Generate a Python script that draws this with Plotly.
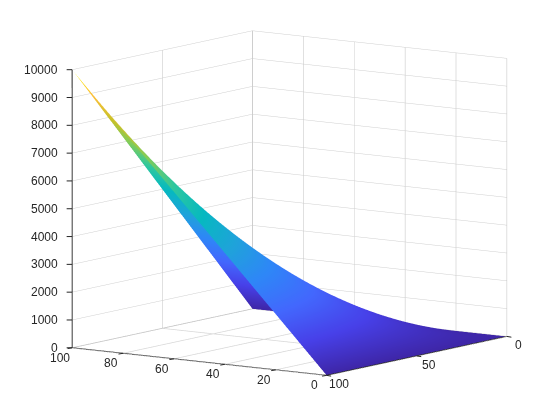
import plotly.graph_objects as go

x_values = [0, 10, 20, 30, 40, 50, 60, 70, 80, 90, 100]
y_values = [0, 10, 20, 30, 40, 50, 60, 70, 80, 90, 100]
# rows follow y_values, columns follow x_values
z_values = [
    [0, 0, 0, 0, 0, 0, 0, 0, 0, 0, 0],
    [0, 100, 200, 300, 400, 500, 600, 700, 800, 900, 1000],
    [0, 200, 400, 600, 800, 1000, 1200, 1400, 1600, 1800, 2000],
    [0, 300, 600, 900, 1200, 1500, 1800, 2100, 2400, 2700, 3000],
    [0, 400, 800, 1200, 1600, 2000, 2400, 2800, 3200, 3600, 4000],
    [0, 500, 1000, 1500, 2000, 2500, 3000, 3500, 4000, 4500, 5000],
    [0, 600, 1200, 1800, 2400, 3000, 3600, 4200, 4800, 5400, 6000],
    [0, 700, 1400, 2100, 2800, 3500, 4200, 4900, 5600, 6300, 7000],
    [0, 800, 1600, 2400, 3200, 4000, 4800, 5600, 6400, 7200, 8000],
    [0, 900, 1800, 2700, 3600, 4500, 5400, 6300, 7200, 8100, 9000],
    [0, 1000, 2000, 3000, 4000, 5000, 6000, 7000, 8000, 9000, 10000],
]
x_ticks = [0, 20, 40, 60, 80, 100]
y_ticks = [0, 50, 100]
z_ticks = [0, 1000, 2000, 3000, 4000, 5000, 6000, 7000, 8000, 9000, 10000]
edge_x = [100, 100, 100]
edge_y = [100, 0, 0]
edge_z = [0, 0, 10000]
parula = [
    [0.0, "#3e26a8"], [0.1, "#4740e8"], [0.2, "#4367fd"], [0.3, "#2e87f7"],
    [0.4, "#1fa3da"], [0.5, "#06b9c0"], [0.6, "#2dc7a0"], [0.7, "#81cc59"],
    [0.8, "#c8c129"], [0.9, "#fdbf3b"], [1.0, "#f9fb15"],
]
line = "#262626"
font = dict(family="Liberation Sans, Arial, sans-serif", size=12, color="#262626")


def axis(gridcolor, **kw):
    return dict(
        title=dict(text=""), showbackground=False, showgrid=True, gridcolor=gridcolor,
        gridwidth=1, showline=True, linecolor=line, linewidth=2, ticks="",
        showticklabels=False, zeroline=False, showspikes=False, mirror=False, **kw,
    )


def label(x, y, z, text, xshift, yshift, xanchor="center"):
    return dict(
        x=x, y=y, z=z, text=str(text), showarrow=False, font=font,
        xanchor=xanchor, yanchor="middle", xshift=xshift, yshift=yshift,
    )


def tick(x, y, z, ax, ay):
    return dict(
        x=x, y=y, z=z, text="", showarrow=True, arrowhead=0, arrowwidth=1,
        arrowcolor=line, ax=ax, ay=ay, standoff=0,
    )


annotations = (
    [label(v, 100, 0, v, -12, -10) for v in x_ticks]
    + [label(0, v, 0, v, 12, -9) for v in y_ticks]
    + [label(100, 100, v, v, -12, 0, "right") for v in z_ticks]
    + [tick(v, 100, 0, -6, 1) for v in x_ticks]
    + [tick(0, v, 0, 6, 1) for v in y_ticks]
    + [tick(100, 100, v, -7, 0) for v in z_ticks]
)

floor_x, floor_y = [], []
for v in x_ticks:
    floor_x += [v, v, None]
    floor_y += [0, 100, None]
for v in y_ticks:
    floor_x += [0, 100, None]
    floor_y += [v, v, None]
floor_z = [None if p is None else 0 for p in floor_x]

fig = go.Figure()
fig.add_trace(go.Scatter3d(
    x=floor_x, y=floor_y, z=floor_z, mode="lines",
    line=dict(color="#dadada", width=1.5), showlegend=False, hoverinfo="skip",
))
fig.add_trace(go.Scatter3d(
    x=edge_x, y=edge_y, z=edge_z, mode="lines",
    line=dict(color="#b8b8b8", width=1.5), showlegend=False, hoverinfo="skip",
))
fig.add_trace(go.Surface(
    x=x_values, y=y_values, z=z_values, colorscale=parula, showscale=False,
    cmin=0, cmax=10000,
    lighting=dict(ambient=1, diffuse=0, specular=0, roughness=1, fresnel=0),
))
fig.update_layout(
    width=560, height=420, margin=dict(l=0, r=0, t=0, b=0),
    paper_bgcolor="white", font=font,
    scene=dict(
        xaxis=axis("#c0c0c0", range=[0, 100], tickvals=x_ticks),
        yaxis=axis("#c0c0c0", range=[0, 100], tickvals=y_ticks),
        zaxis=axis("#cfcfcf", range=[0, 10000], tickvals=z_ticks),
        aspectmode="manual", aspectratio=dict(x=1.485, y=1.485, z=1.34),
        annotations=annotations,
        camera=dict(
            projection=dict(type="orthographic"),
            eye=dict(x=-1.136, y=1.616, z=0.234),
            center=dict(x=0.006, y=0.004, z=-0.072),
            up=dict(x=0, y=0, z=1),
        ),
    ),
)
fig.write_html("out.html")
